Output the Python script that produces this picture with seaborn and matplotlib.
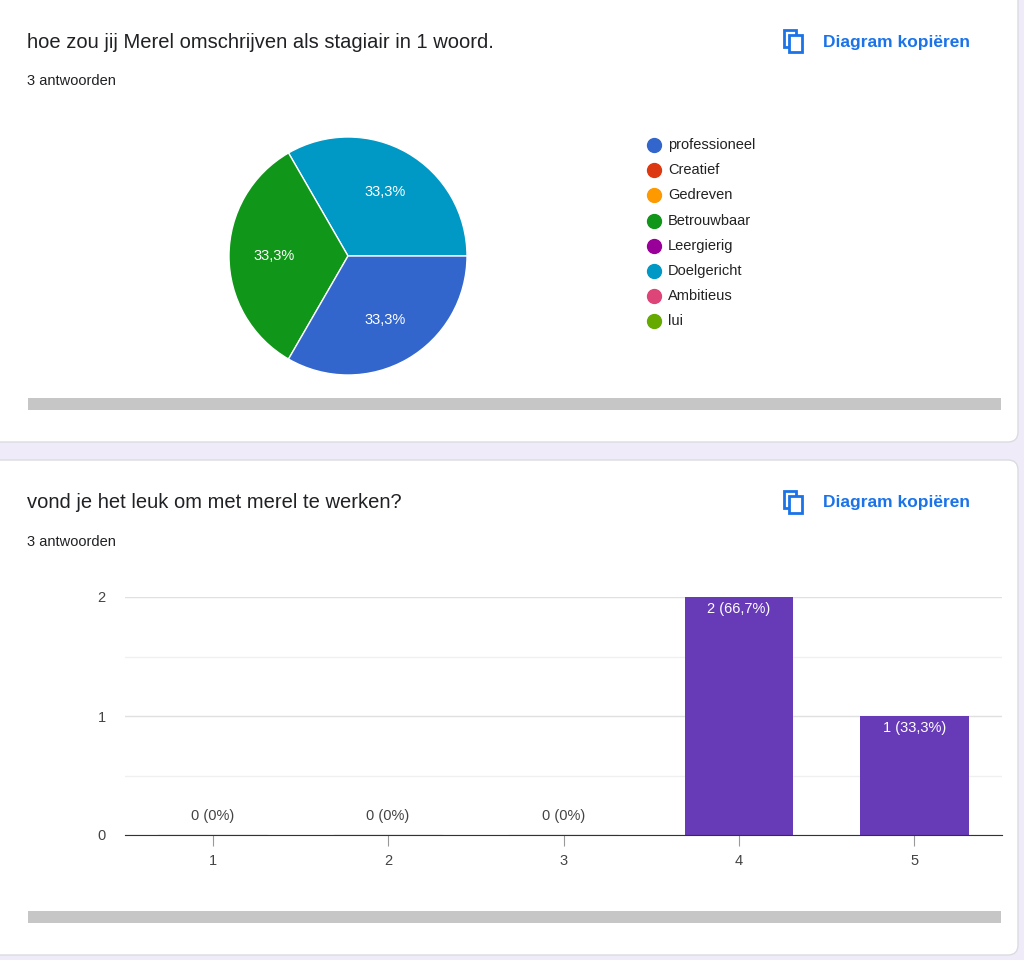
import matplotlib
matplotlib.use("Agg")
import matplotlib.pyplot as plt
from matplotlib.patches import FancyBboxPatch, Rectangle
import seaborn as sns
import pandas as pd

W, H = 1024, 960
plt.rcParams["font.family"] = ["Liberation Sans", "DejaVu Sans"]

# pie data
pie_labels = ["professioneel", "Creatief", "Gedreven", "Betrouwbaar",
              "Leergierig", "Doelgericht", "Ambitieus", "lui"]
pie_colors = ["#3366cc", "#dc3912", "#ff9900", "#109618",
              "#990099", "#0099c6", "#dd4477", "#66aa00"]
pie_counts = [1, 0, 0, 1, 0, 1, 0, 0]

# bar data
bar_cats = ["1", "2", "3", "4", "5"]
bar_counts = [0, 0, 0, 2, 1]
bar_pct = ["0%", "0%", "0%", "66,7%", "33,3%"]


def px_axes(fig, l, t, w, h):
    return fig.add_axes([l / W, 1 - (t + h) / H, w / W, h / H])


def ftext(fig, x, y, s, **kw):
    fig.text(x / W, 1 - y / H, s, **kw)


fig = plt.figure(figsize=(W / 100, H / 100), dpi=100, facecolor="#f0ebf8")
bg = px_axes(fig, 0, 0, W, H)
bg.set_xlim(0, W)
bg.set_ylim(H, 0)
bg.axis("off")
for top, bot in [(-10, 442), (460, 955)]:
    bg.add_patch(FancyBboxPatch((-10, top), 1028, bot - top,
                                boxstyle="round,pad=0,rounding_size=10",
                                fc="white", ec="#dadce0", lw=1))
for y in [398, 911]:
    bg.add_patch(Rectangle((28, y), 973, 12, fc="#c6c6c6", ec="none"))

# headers
for y0, title in [(42, "hoe zou jij Merel omschrijven als stagiair in 1 woord."),
                  (503, "vond je het leuk om met merel te werken?")]:
    ftext(fig, 27, y0, title, fontsize=14.5, color="#202124", va="center")
    ftext(fig, 27, y0 + 39, "3 antwoorden", fontsize=10.5, color="#202124", va="center")
    ftext(fig, 823, y0, "Diagram kopiëren", fontsize=12.5, color="#1a73e8",
          va="center", fontweight="bold")
    bg.add_patch(Rectangle((784, y0 - 12), 12, 17, fc="white", ec="#1a73e8", lw=2))
    bg.add_patch(Rectangle((789, y0 - 7), 13, 17, fc="white", ec="#1a73e8", lw=2))

# pie
pax = px_axes(fig, 229, 137, 238, 238)
vals = [pie_counts[5], pie_counts[3], pie_counts[0]]
cols = [pie_colors[5], pie_colors[3], pie_colors[0]]
pax.pie(vals, colors=cols, startangle=0, counterclock=True, radius=1,
        wedgeprops=dict(edgecolor="white", linewidth=1),
        autopct=lambda p: f"{p:.1f}%".replace(".", ","), pctdistance=0.62,
        textprops=dict(color="white", fontsize=10.5))
pax.set_xlim(-1, 1)
pax.set_ylim(-1, 1)
pax.set_aspect("equal")

for i, (lab, c) in enumerate(zip(pie_labels, pie_colors)):
    y = 145 + i * 25.2
    bg.plot(654, y, "o", ms=10, color=c)
    ftext(fig, 668, y, lab, fontsize=10.5, color="#222222", va="center")

# bars
bax = px_axes(fig, 125, 597, 877, 238)
df = pd.DataFrame({"cat": bar_cats, "n": bar_counts})
sns.barplot(data=df, x="cat", y="n", color="#673ab7", width=0.62,
            saturation=1, ax=bax)
bax.set_xlim(-0.5, 4.5)
bax.set_ylim(0, 2)
bax.set_yticks([0, 1, 2])
bax.set_yticks([0.5, 1.5], minor=True)
bax.grid(axis="y", which="major", color="#e0e0e0", lw=1)
bax.grid(axis="y", which="minor", color="#f0f0f0", lw=1)
bax.set_axisbelow(True)
for s in ["top", "right", "left"]:
    bax.spines[s].set_visible(False)
bax.spines["bottom"].set_color("#333333")
bax.tick_params(axis="y", which="both", length=0, pad=14, labelsize=10.5,
                labelcolor="#444444")
bax.tick_params(axis="x", length=8, color="#999999", pad=6, labelsize=10.5,
                labelcolor="#444444")
bax.set_xlabel("")
bax.set_ylabel("")
for i, (n, p) in enumerate(zip(bar_counts, bar_pct)):
    lab = f"{n} ({p})"
    if n > 0:
        bax.text(i, n - 0.04, lab, ha="center", va="top", color="white", fontsize=10.5)
    else:
        bax.plot([i - 0.31, i + 0.31], [0.004, 0.004], color="#555555", lw=0.8)
        bax.text(i, 0.1, lab, ha="center", va="bottom", color="#444444", fontsize=10.5)

fig.savefig("out.png", dpi=100, facecolor=fig.get_facecolor())
